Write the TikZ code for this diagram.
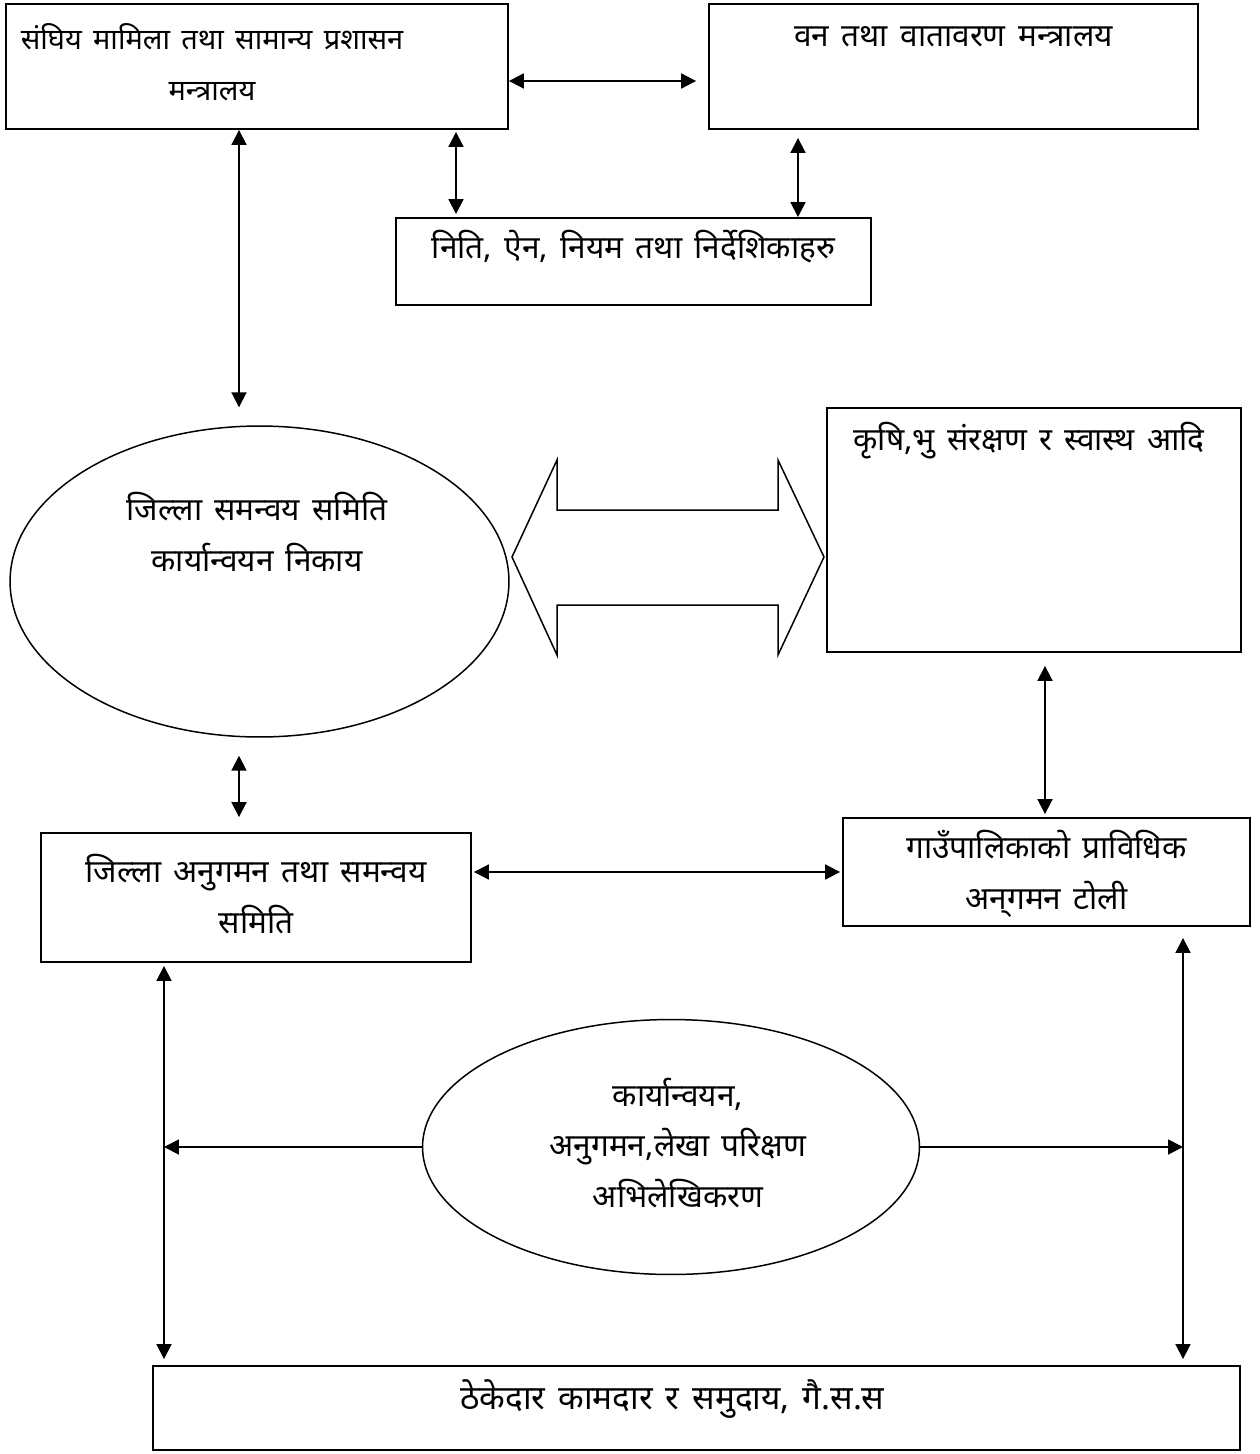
\documentclass[tikz,border=0pt]{standalone}
\usepackage{fontspec}
\newfontfamily\devfont[Script=Devanagari,WordSpace=1.5]{Noto Sans}
\usetikzlibrary{calc,shapes.geometric,arrows.meta}

\begin{document}
\begin{tikzpicture}[x=0.02cm,y=-0.02cm,
    box/.style={draw,line width=1.1pt,inner sep=0pt},
    oval/.style={draw,ellipse,line width=0.85pt,inner sep=0pt},
    txt/.style={font=\devfont\fontsize{18}{29}\selectfont,align=center,inner sep=0pt},
    link/.style={line width=1.1pt,
      {Triangle[length=8.5pt,width=8.5pt]}-{Triangle[length=8.5pt,width=8.5pt]}},
    flow/.style={line width=1.1pt,-{Triangle[length=8.5pt,width=8.5pt]}}]
  \useasboundingbox (0,0) rectangle (1259,1454);

  % the boxes and ovals
  \node [box,minimum width=10.04cm,minimum height=2.5cm] (mofaga) at (257,66.5) {};
  \node [box,minimum width=9.78cm,minimum height=2.5cm] (mofe) at (953.5,66.5) {};
  \node [box,minimum width=9.5cm,minimum height=1.74cm] (policy) at (633.5,261.5) {};
  \node [oval,minimum width=9.98cm,minimum height=6.22cm] (dcc) at (259.5,581.5) {};
  \node [box,minimum width=8.28cm,minimum height=4.88cm] (agri) at (1034,530) {};
  \node [box,minimum width=8.6cm,minimum height=2.58cm] (dmcc) at (256,897.5) {};
  \node [box,minimum width=8.14cm,minimum height=2.16cm] (mteam) at (1046.5,872) {};
  \node [oval,minimum width=9.94cm,minimum height=5.1cm] (tasks) at (671,1147) {};
  \node [box,minimum width=21.74cm,minimum height=1.68cm] (users) at (696.5,1408) {};

  % the texts
  \node [txt,font=\devfont\fontsize{16.5}{29}\selectfont] (lblMofaga) at (212,62)
    {संघिय मामिला तथा सामान्य प्रशासन\\मन्त्रालय};
  \node [txt] (lblMofe) at ($ (mofe.north) + (0,34) $) {वन तथा वातावरण मन्त्रालय};
  \node [txt] (lblPolicy) at ($ (policy.north) + (0,30) $) {निति, ऐन, नियम तथा निर्देशिकाहरु};
  \node [txt] (lblDcc) at (257,532) {जिल्ला समन्वय समिति\\कार्यान्वयन निकाय};
  \node [txt] (lblAgri) at ($ (agri.north) + (-5,34) $) {कृषि,भु संरक्षण र स्वास्थ आदि};
  \node [txt] (lblDmcc) at ($ (dmcc.north) + (0,62) $) {जिल्ला अनुगमन तथा समन्वय\\समिति};
  \node [txt] (lblMteam) at ($ (mteam.north) + (0,57) $) {गाउँपालिकाको प्राविधिक\\अन्^^^^200cगमन टोली};
  \node [txt] (lblTasks) at (678,1143) {कार्यान्वयन,\\अनुगमन,लेखा परिक्षण\\अभिलेखिकरण};
  \node [txt,font=\devfont\fontsize{19}{29}\selectfont] (lblUsers) at ($ (users.north) + (-24,34) $)
    {ठेकेदार कामदार र समुदाय, गै.स.स};

  % columns of the vertical links
  \coordinate (colA) at (239,0);
  \coordinate (colB) at (456,0);
  \coordinate (colC) at (798,0);
  \coordinate (colE) at (1045,0);
  \coordinate (colL) at (164,0);
  \coordinate (colR) at (1183,0);

  % links between the ministries and the policy box
  \draw [link,shorten >=0.24cm] ($ (mofaga.east) + (0,14.5) $) -- ($ (mofe.west) + (0,14.5) $);
  \draw [link,shorten <=0.04cm,shorten >=0.06cm] (colB |- mofaga.south) -- (colB |- policy.north);
  \draw [link,shorten <=0.16cm] (colC |- mofe.south) -- (colC |- policy.north);

  % links down the left side
  \draw [link,shorten >=0.36cm] (colA |- mofaga.south) -- (colA |- dcc.north);
  \draw [link,shorten <=0.36cm,shorten >=0.3cm] (colA |- dcc.south) -- (colA |- dmcc.north);
  \draw [link,shorten <=0.06cm,shorten >=0.12cm] (colL |- dmcc.south) -- (colL |- users.north);

  % links down the right side
  \draw [link,shorten <=0.26cm,shorten >=0.06cm] (colE |- agri.south) -- (colE |- mteam.north);
  \draw [link,shorten <=0.22cm,shorten >=0.12cm] (colR |- mteam.south) -- (colR |- users.north);
  \draw [link,shorten <=0.04cm,shorten >=0.04cm] (dmcc.east |- mteam.west) -- (mteam.west);

  % from the tasks to both columns
  \draw [flow] (tasks.west) -- (colL |- tasks.west);
  \draw [flow] (tasks.east) -- (colR |- tasks.east);

  % the big double arrow
  \draw [line width=0.85pt,line join=miter]
    (512,557) -- (557,460) -- (557,510) -- (778,510) -- (778,460) -- (824,557)
    -- (778,655) -- (778,605) -- (557,605) -- (557,655) -- cycle;
\end{tikzpicture}
\end{document}
